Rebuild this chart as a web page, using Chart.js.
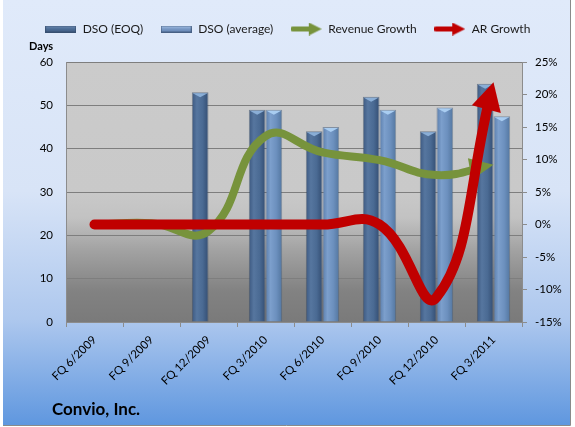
<!DOCTYPE html>
<html>
<head>
<meta charset="utf-8">
<title>Convio, Inc. - DSO</title>
<script src="https://cdn.jsdelivr.net/npm/chart.js@4.4.1/dist/chart.umd.min.js"></script>
<style>
    html, body { margin: 0; padding: 0; background: #fff; }
    #wrap { width: 575px; height: 427px; }
</style>
</head>
<body>
<div id="wrap"><canvas id="dsoChart" width="575" height="427"></canvas></div>
<script>
// values
const categories = ['FQ 6/2009', 'FQ 9/2009', 'FQ 12/2009', 'FQ 3/2010', 'FQ 6/2010', 'FQ 9/2010', 'FQ 12/2010', 'FQ 3/2011'];
const dsoEoq = [null, null, 53, 49, 44, 52, 44, 55];
const dsoAverage = [null, null, null, 49, 45, 49, 49.5, 47.5];
const revenueGrowth = [0, 0.2, -1.0, 13.6, 11.1, 9.9, 7.6, 9.2];   // %
const arGrowth = [0, 0, 0, 0, 0, 0, -11.2, 21.9];                 // %
const seriesNames = ['DSO (EOQ)', 'DSO (average)', 'Revenue Growth', 'AR Growth'];
const chartTitle = 'Convio, Inc.';
const leftAxisTitle = 'Days';

const FONT = 'Lato, "Open Sans", sans-serif';

document.addEventListener('DOMContentLoaded', function () {
    const canvas = document.getElementById('dsoChart');
    if (!canvas || typeof Chart === 'undefined') {
        console.error('Chart.js not loaded or canvas missing');
        return;
    }

    // legend icons
    function barIcon(c1, c2, c3) {
        const cv = document.createElement('canvas');
        cv.width = 31; cv.height = 7;
        const c = cv.getContext('2d');
        const g = c.createLinearGradient(0, 0, 0, 7);
        g.addColorStop(0, c1); g.addColorStop(0.5, c2); g.addColorStop(1, c3);
        c.fillStyle = g;
        c.fillRect(0, 0, 31, 7);
        c.strokeStyle = 'rgba(50,70,100,0.6)';
        c.strokeRect(0.5, 0.5, 30, 6);
        return cv;
    }
    function arrowIcon(color, w) {
        const cv = document.createElement('canvas');
        cv.width = 31; cv.height = 13;
        const c = cv.getContext('2d');
        c.strokeStyle = color; c.fillStyle = color;
        c.lineWidth = w; c.lineCap = 'round';
        c.beginPath(); c.moveTo(2, 6.5); c.lineTo(20, 6.5); c.stroke();
        c.beginPath(); c.moveTo(31, 6.5); c.lineTo(18, 0); c.lineTo(18, 13); c.closePath(); c.fill();
        return cv;
    }
    const icons = [
        barIcon('#6f8db4', '#4d6d96', '#3e5a80'),
        barIcon('#a9c6ea', '#7898c4', '#6385b3'),
        arrowIcon('#77933c', 5),
        arrowIcon('#c00000', 5)
    ];

    // backgrounds, frame and free texts
    const decorPlugin = {
        id: 'decor',
        beforeDraw(chart) {
            const { ctx, width, height, chartArea: a } = chart;
            ctx.save();
            ctx.fillStyle = '#ffffff';
            ctx.fillRect(0, 0, width, height);
            const g = ctx.createLinearGradient(0, 0, 0, 425);
            g.addColorStop(0, '#e0eafa');
            g.addColorStop(0.45, '#d8e4f7');
            g.addColorStop(0.75, '#aec8ee');
            g.addColorStop(1, '#5f97df');
            ctx.fillStyle = g;
            ctx.fillRect(3, 0, 567, 425);
            ctx.strokeStyle = '#8a8a8a';
            ctx.lineWidth = 1;
            ctx.beginPath();
            ctx.moveTo(570.5, 0); ctx.lineTo(570.5, 425.5); ctx.lineTo(3, 425.5);
            ctx.stroke();

            const pg = ctx.createLinearGradient(0, a.top, 0, a.bottom);
            pg.addColorStop(0, '#cbcbcb');
            pg.addColorStop(0.5, '#c9c9c9');
            pg.addColorStop(0.6, '#c2c2c2');
            pg.addColorStop(0.72, '#a3a3a3');
            pg.addColorStop(0.88, '#828282');
            pg.addColorStop(1, '#7a7a7a');
            ctx.fillStyle = pg;
            ctx.fillRect(a.left, a.top, a.width, a.height);
            ctx.restore();
        },
        afterDraw(chart) {
            const ctx = chart.ctx;
            ctx.save();
            ctx.fillStyle = '#000';
            ctx.textBaseline = 'alphabetic';
            ctx.font = 'bold 11px ' + FONT;
            ctx.fillText(leftAxisTitle, 29, 50);
            ctx.font = 'bold 17px ' + FONT;
            ctx.fillText(chartTitle, 52, 415);
            ctx.restore();
        }
    };

    // cylinder shading on bars, arrow heads on lines
    const shapePlugin = {
        id: 'shapes',
        beforeDatasetDraw(chart, args) {
            const ctx = chart.ctx;
            const meta = args.meta;
            if (meta.type === 'bar') {
                const light = args.index === 1;
                meta.data.forEach(function (el, i) {
                    if (chart.data.datasets[args.index].data[i] == null) return;
                    const l = el.x - el.width / 2, r = el.x + el.width / 2;
                    const g = ctx.createLinearGradient(l, 0, r, 0);
                    if (light) {
                        g.addColorStop(0, '#5a7dab'); g.addColorStop(0.3, '#7c9fcc');
                        g.addColorStop(0.65, '#6c90be'); g.addColorStop(1, '#53769f');
                    } else {
                        g.addColorStop(0, '#3c5880'); g.addColorStop(0.3, '#56769f');
                        g.addColorStop(0.65, '#4a6a93'); g.addColorStop(1, '#334d72');
                    }
                    el.options.backgroundColor = g;
                });
                return;
            }
            const pts = meta.data;
            const p = pts[pts.length - 1];
            const prev = pts[pts.length - 2];
            let dx = p.x - (p.cp1x !== undefined ? p.cp1x : prev.x);
            let dy = p.y - (p.cp1y !== undefined ? p.cp1y : prev.y);
            if (Math.hypot(dx, dy) < 1) { dx = p.x - prev.x; dy = p.y - prev.y; }
            const len = Math.hypot(dx, dy);
            dx /= len; dy /= len;
            const red = args.index === 3;
            const L = red ? 28 : 24, W = red ? 15 : 11;
            const bx = p.x - dx * L, by = p.y - dy * L;
            meta._head = { tip: [p.x, p.y], a: [bx - dy * W, by + dx * W], b: [bx + dy * W, by - dx * W] };
            // clip the shaft so it stops under the head
            const cx = bx + dx * 3, cy = by + dy * 3, F = 3000;
            ctx.save();
            ctx.beginPath();
            ctx.moveTo(cx - dy * F, cy + dx * F);
            ctx.lineTo(cx + dy * F, cy - dx * F);
            ctx.lineTo(cx + dy * F - dx * F, cy - dx * F - dy * F);
            ctx.lineTo(cx - dy * F - dx * F, cy + dx * F - dy * F);
            ctx.closePath();
            ctx.clip();
        },
        afterDatasetDraw(chart, args) {
            const ctx = chart.ctx;
            const meta = args.meta;
            if (meta.type === 'bar') {
                const light = args.index === 1;
                ctx.save();
                meta.data.forEach(function (el, i) {
                    if (chart.data.datasets[args.index].data[i] == null) return;
                    const l = el.x - el.width / 2 + 1, r = el.x + el.width / 2 - 1;
                    ctx.fillStyle = light ? '#a9cdf1' : '#8aaed6';
                    ctx.beginPath();
                    ctx.moveTo(l, el.y + 1);
                    ctx.lineTo(r, el.y + 1);
                    ctx.lineTo(el.x, el.y + 5);
                    ctx.closePath();
                    ctx.fill();
                });
                ctx.restore();
                return;
            }
            ctx.restore();
            const h = meta._head;
            if (!h) return;
            ctx.save();
            ctx.fillStyle = chart.data.datasets[args.index].borderColor;
            ctx.beginPath();
            ctx.moveTo(h.tip[0], h.tip[1]);
            ctx.lineTo(h.a[0], h.a[1]);
            ctx.lineTo(h.b[0], h.b[1]);
            ctx.closePath();
            ctx.fill();
            ctx.restore();
        }
    };

    try {
        new Chart(canvas.getContext('2d'), {
            type: 'bar',
            data: {
                labels: categories,
                datasets: [{
                    label: seriesNames[0],
                    data: dsoEoq,
                    yAxisID: 'y',
                    order: 2,
                    backgroundColor: function () { return '#4a6a93'; },
                    borderColor: 'rgba(45,65,95,0.55)',
                    borderWidth: 1,
                    barPercentage: 1,
                    categoryPercentage: 0.585
                }, {
                    label: seriesNames[1],
                    data: dsoAverage,
                    yAxisID: 'y',
                    order: 3,
                    backgroundColor: function () { return '#6c90be'; },
                    borderColor: 'rgba(60,85,120,0.5)',
                    borderWidth: 1,
                    barPercentage: 1,
                    categoryPercentage: 0.585
                }, {
                    type: 'line',
                    label: seriesNames[2],
                    data: revenueGrowth,
                    yAxisID: 'y1',
                    order: 1,
                    borderColor: '#77933c',
                    borderWidth: 8,
                    borderCapStyle: 'round',
                    tension: 0.45,
                    pointRadius: 0,
                    fill: false
                }, {
                    type: 'line',
                    label: seriesNames[3],
                    data: arGrowth,
                    yAxisID: 'y1',
                    order: 0,
                    borderColor: '#c00000',
                    borderWidth: 10,
                    borderCapStyle: 'round',
                    tension: 0.45,
                    pointRadius: 0,
                    fill: false
                }]
            },
            options: {
                responsive: false,
                animation: false,
                layout: { padding: { top: 6, left: 0, right: 0, bottom: 0 } },
                scales: {
                    x: {
                        offset: true,
                        grid: { offset: true, drawOnChartArea: false, tickLength: 5, color: '#8c8c8c' },
                        border: { color: '#8c8c8c' },
                        ticks: { minRotation: 45, maxRotation: 45, color: '#000', padding: 6, font: { family: FONT, size: 11.5 } },
                        afterFit: function (s) { s.height = 105; }
                    },
                    y: {
                        position: 'left',
                        min: 0, max: 60,
                        ticks: { stepSize: 10, color: '#000', padding: 13, font: { family: FONT, size: 11.5 } },
                        grid: { color: '#7e7e7e', drawTicks: false },
                        border: { color: '#8c8c8c' },
                        afterFit: function (s) { s.width = 66; }
                    },
                    y1: {
                        position: 'right',
                        min: -15, max: 25,
                        ticks: {
                            stepSize: 5, color: '#000', padding: 8, font: { family: FONT, size: 11.5 },
                            callback: function (v) { return v + '%'; }
                        },
                        grid: { drawOnChartArea: false, tickLength: 5, color: '#8c8c8c' },
                        border: { color: '#8c8c8c' },
                        afterFit: function (s) { s.width = 53; }
                    }
                },
                plugins: {
                    legend: {
                        position: 'top',
                        weight: 1000,
                        labels: {
                            usePointStyle: true,
                            pointStyleWidth: 32,
                            padding: 17,
                            color: '#1a1a1a',
                            font: { family: FONT, size: 12 },
                            generateLabels: function () {
                                return seriesNames.map(function (name, i) {
                                    return {
                                        text: name,
                                        pointStyle: icons[i],
                                        fillStyle: 'transparent',
                                        strokeStyle: 'transparent',
                                        lineWidth: 0,
                                        fontColor: '#1a1a1a',
                                        hidden: false,
                                        datasetIndex: i
                                    };
                                });
                            }
                        }
                    },
                    // empty spacer between legend and plot
                    subtitle: {
                        display: true,
                        text: '',
                        weight: 500,
                        font: { size: 1, lineHeight: 1 },
                        padding: { top: 0, bottom: 16 }
                    },
                    tooltip: { enabled: false }
                }
            },
            plugins: [decorPlugin, shapePlugin]
        });
    } catch (error) {
        console.error('Error rendering chart:', error.message);
    }
});
</script>
</body>
</html>
